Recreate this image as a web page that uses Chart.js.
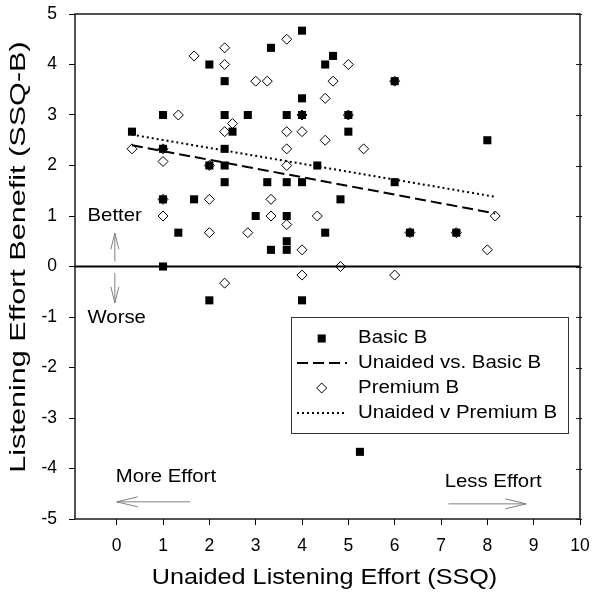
<!DOCTYPE html>
<html><head><meta charset="utf-8">
<script src="https://cdn.jsdelivr.net/npm/chart.js@4.4.1/dist/chart.umd.min.js"></script>
<style>html,body{margin:0;padding:0;background:#fff;} canvas{display:block;}</style>
</head><body>
<canvas id="c" width="596" height="600"></canvas>
<script>
// ---- data ----
const basicX = [0.33,1,1,1,1,1.33,1.67,2,2,2,2.33,2.33,2.33,2.33,2.33,2.5,2.83,3,3.25,3.33,3.33,3.67,3.67,3.67,3.67,3.67,4,4,4,4,4,4.33,4.5,4.5,4.67,4.83,5,5,5.25,6,6,6.33,7.33,8];
const basicY = [2.67,3,2.33,1.33,0,0.67,1.33,4,2,-0.67,3.67,3,2.33,2,1.67,2.67,3,1,1.67,4.33,0.33,3,1.67,1,0.5,0.33,4.67,3.33,3,1.67,-0.67,2,4,0.67,4.17,1.33,3,2.67,-3.67,3.67,1.67,0.67,0.67,2.5];
const premiumX = [0.33,1,1,1,1,1.33,1.67,2,2,2,2.33,2.33,2.33,2.33,2.5,2.83,3,3.25,3.33,3.33,3.67,3.67,3.67,3.67,3.67,4,4,4,4,4.33,4.5,4.5,4.67,4.83,5,5,5.33,6,6,6.33,7.33,8,8.17];
const premiumY = [2.33,2.33,2.08,1.33,1,3,4.17,2,1.33,0.67,4.33,4,2.67,-0.33,2.83,0.67,3.67,3.67,1.33,1,4.5,2.67,2.33,2,0.83,3,2.67,0.33,-0.17,1,3.33,2.5,3.67,0,4,3,2.33,3.67,-0.17,0.67,0.67,0.33,1];
const basicFitX = [0.33, 8.17];
const basicFitY = [2.40, 1.05];
const premiumFitX = [0.33, 8.17];
const premiumFitY = [2.61, 1.38];
const xTickValues = [0,1,2,3,4,5,6,7,8,9,10];
const yTickValues = [-5,-4,-3,-2,-1,0,1,2,3,4,5];
const seriesNames = ['Basic B','Unaided vs. Basic B','Premium B','Unaided v Premium B'];
const xTitle = 'Unaided Listening Effort (SSQ)';
const yTitle = 'Listening Effort Benefit (SSQ-B)';
const notes = {better:'Better', worse:'Worse', more:'More Effort', less:'Less Effort'};

const FONT = "'Liberation Sans', Arial, sans-serif";
const pts = (xs, ys) => xs.map((x, i) => ({x, y: ys[i]}));

function sText(ctx, text, x, y, size, sx, align, base, rot) {
  ctx.save();
  ctx.translate(x, y);
  if (rot) ctx.rotate(rot);
  ctx.scale(sx, 1);
  ctx.font = size + 'px ' + FONT;
  ctx.fillStyle = '#000';
  ctx.textAlign = align; ctx.textBaseline = base;
  ctx.fillText(text, 0, 0);
  ctx.restore();
}
function arrow(ctx, x1, y1, x2, y2, head, half) {
  const a = Math.atan2(y2 - y1, x2 - x1);
  ctx.save();
  ctx.strokeStyle = '#808080'; ctx.lineWidth = 1;
  ctx.beginPath(); ctx.moveTo(x1, y1); ctx.lineTo(x2, y2);
  const bx = x2 - head * Math.cos(a), by = y2 - head * Math.sin(a);
  const px = -Math.sin(a) * half, py = Math.cos(a) * half;
  ctx.moveTo(bx + px, by + py); ctx.lineTo(x2, y2); ctx.lineTo(bx - px, by - py);
  ctx.stroke(); ctx.restore();
}

const decor = {
  id: 'decor',
  beforeDatasetsDraw(chart) {
    const {ctx, chartArea: a, scales: {x, y}} = chart;
    ctx.save();
    ctx.strokeStyle = '#000'; ctx.lineWidth = 2;
    ctx.beginPath(); ctx.moveTo(a.left, y.getPixelForValue(0)); ctx.lineTo(a.right, y.getPixelForValue(0)); ctx.stroke();
    ctx.restore();
  },
  afterDatasetsDraw(chart) {
    const {ctx, chartArea: a, scales: {x, y}} = chart;
    ctx.save();
    // frame
    ctx.strokeStyle = '#1a1a1a'; ctx.lineWidth = 1.5;
    ctx.strokeRect(a.left, a.top, a.right - a.left, a.bottom - a.top);
    ctx.lineWidth = 1;
    ctx.beginPath();
    yTickValues.forEach(v => { const py = Math.round(y.getPixelForValue(v)) + 0.5; ctx.moveTo(a.right - 4, py); ctx.lineTo(a.right + 2, py); });
    ctx.stroke();
    ctx.restore();
    // annotations
    sText(ctx, notes.better, x.getPixelForValue(-0.63), y.getPixelForValue(1.0), 18.5, 1.1, 'left', 'middle');
    sText(ctx, notes.worse, x.getPixelForValue(-0.63), y.getPixelForValue(-1.02), 18.5, 1.1, 'left', 'middle');
    arrow(ctx, x.getPixelForValue(-0.04), y.getPixelForValue(0.1), x.getPixelForValue(-0.04), y.getPixelForValue(0.66), 16, 4);
    arrow(ctx, x.getPixelForValue(-0.04), y.getPixelForValue(-0.13), x.getPixelForValue(-0.04), y.getPixelForValue(-0.72), 16, 4);
    sText(ctx, notes.more, x.getPixelForValue(-0.02), y.getPixelForValue(-4.17), 18.5, 1.1, 'left', 'middle');
    arrow(ctx, x.getPixelForValue(1.59), y.getPixelForValue(-4.66), x.getPixelForValue(0.0), y.getPixelForValue(-4.66), 21, 5);
    sText(ctx, notes.less, x.getPixelForValue(7.08), y.getPixelForValue(-4.26), 18.5, 1.1, 'left', 'middle');
    arrow(ctx, x.getPixelForValue(7.16), y.getPixelForValue(-4.70), x.getPixelForValue(8.84), y.getPixelForValue(-4.70), 21, 5);
    // legend
    const L = 291, T = 317, R = 568, B = 433;
    ctx.save();
    ctx.strokeStyle = '#333'; ctx.lineWidth = 1;
    ctx.fillStyle = '#fff';
    ctx.fillRect(L, T, R - L, B - T);
    ctx.strokeRect(L + 0.5, T + 0.5, R - L, B - T);
    const rows = [338.5, 363, 388, 413];
    const ds = chart.data.datasets;
    rows.forEach((ry, i) => {
      const d = ds[i];
      if (d.showLine) {
        ctx.save();
        ctx.strokeStyle = '#000'; ctx.lineWidth = d.borderWidth; ctx.setLineDash(d.borderDash);
        ctx.beginPath(); ctx.moveTo(297, ry); ctx.lineTo(347, ry); ctx.stroke();
        ctx.restore();
      } else {
        ctx.save();
        ctx.fillStyle = d.backgroundColor; ctx.strokeStyle = d.borderColor; ctx.lineWidth = d.borderWidth;
        ctx.beginPath();
        if (d.pointStyle === 'rect') { const s = d.pointRadius * Math.SQRT1_2; ctx.rect(321.7 - s, ry - s, 2 * s, 2 * s); ctx.fill(); }
        else { const r = d.pointRadius; ctx.moveTo(321.7 - r, ry); ctx.lineTo(321.7, ry - r); ctx.lineTo(321.7 + r, ry); ctx.lineTo(321.7, ry + r); ctx.closePath(); ctx.fill(); ctx.stroke(); }
        ctx.restore();
      }
      sText(ctx, d.label, 358, ry, 17.5, 1.17, 'left', 'middle');
    });
    ctx.restore();
    // axis titles
    sText(ctx, xTitle, (a.left + a.right) / 2 - 3, 578, 22.5, 1.12, 'center', 'middle');
    sText(ctx, yTitle, 19, 257, 22.5, 1.36, 'center', 'middle', -Math.PI / 2);
  }
};

new Chart(document.getElementById('c'), {
  type: 'scatter',
  data: {
    datasets: [
      {label: seriesNames[0], data: pts(basicX, basicY), pointStyle: 'rect', pointRadius: 5.7, backgroundColor: '#000', borderColor: '#000', borderWidth: 0, showLine: false, order: 1},
      {label: seriesNames[1], data: pts(basicFitX, basicFitY), showLine: true, borderColor: '#000', borderWidth: 2, borderDash: [11, 5], pointRadius: 0, fill: false, order: 3},
      {label: seriesNames[2], data: pts(premiumX, premiumY), pointStyle: 'rectRot', pointRadius: 5, backgroundColor: 'rgba(255,255,255,0)', borderColor: '#000', borderWidth: 1, showLine: false, order: 0},
      {label: seriesNames[3], data: pts(premiumFitX, premiumFitY), showLine: true, borderColor: '#000', borderWidth: 2, borderDash: [2, 3], pointRadius: 0, fill: false, order: 4}
    ]
  },
  options: {
    responsive: false, maintainAspectRatio: false, animation: false, events: [],
    layout: {padding: {top: 14, right: 16, left: 0, bottom: 0}},
    plugins: {legend: {display: false}, tooltip: {enabled: false}},
    scales: {
      x: {
        type: 'linear', min: -0.9, max: 10,
        afterBuildTicks: s => { s.ticks = xTickValues.map(v => ({value: v})); },
        afterFit: s => { s.height = 81; s.paddingLeft = 0; s.paddingRight = 0; },
        border: {display: false},
        grid: {drawOnChartArea: false, drawTicks: true, tickLength: 6, tickColor: '#000', lineWidth: 1},
        ticks: {autoSkip: false, maxRotation: 0, padding: 11, color: '#000', font: {family: FONT, size: 17.5}, callback: v => String(v)},
        title: {display: false}
      },
      y: {
        type: 'linear', min: -5, max: 5,
        afterBuildTicks: s => { s.ticks = yTickValues.map(v => ({value: v})); },
        afterFit: s => { s.width = 75; s.paddingTop = 0; s.paddingBottom = 0; },
        border: {display: false},
        grid: {drawOnChartArea: false, drawTicks: true, tickLength: 6, tickColor: '#000', lineWidth: 1},
        ticks: {autoSkip: false, padding: 12, color: '#000', font: {family: FONT, size: 17.5}, callback: v => String(v)},
        title: {display: false}
      }
    }
  },
  plugins: [decor]
});
</script>
</body></html>
